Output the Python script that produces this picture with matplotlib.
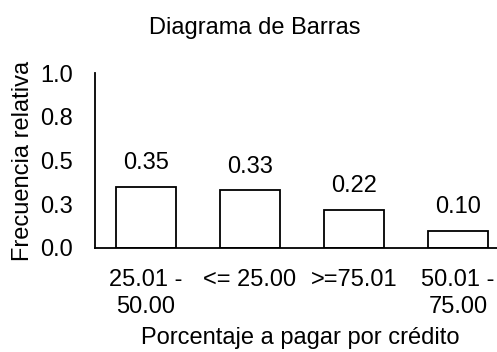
import matplotlib
matplotlib.use("Agg")
import matplotlib.pyplot as plt

plt.rcParams['font.family'] = ['Liberation Sans', 'DejaVu Sans']

categorias = ["25.01 -\n50.00", "<= 25.00", ">=75.01", "50.01 -\n75.00"]
frecuencias = [0.35, 0.33, 0.22, 0.10]
yticks = [0.0, 0.25, 0.5, 0.75, 1.0]
ytick_labels = ["0.0", "0.3", "0.5", "0.8", "1.0"]

fs = 17

fig = plt.figure(figsize=(4.97, 3.52), dpi=100)
ax = fig.add_axes([95 / 497, 1 - 248 / 352, 1 - 95 / 497, 175 / 352])

x = range(len(categorias))
bars = ax.bar(x, frecuencias, width=0.57, color="white", edgecolor="black", linewidth=1.3)
for b, v in zip(bars, frecuencias):
    ax.annotate(f"{v:.2f}", (b.get_x() + b.get_width() / 2, v), xytext=(0, 9),
                textcoords="offset points", ha="center", va="bottom", fontsize=fs)

ax.set_xlim(-0.49, 3.375)
ax.set_ylim(0, 1.0)
ax.set_yticks(yticks)
ax.set_yticklabels(ytick_labels)
ax.set_xticks(list(x))
ax.set_xticklabels(categorias, linespacing=1.3)
ax.tick_params(axis="both", length=0, labelsize=fs)
ax.tick_params(axis="y", pad=16)
ax.tick_params(axis="x", pad=15)

for s in ["top", "right"]:
    ax.spines[s].set_visible(False)
for s in ["left", "bottom"]:
    ax.spines[s].set_linewidth(1.3)

ax.set_ylabel("Frecuencia relativa", fontsize=fs, labelpad=4)
fig.text(300 / 497, 1 - 344 / 352, "Porcentaje a pagar por crédito", fontsize=fs,
         ha="center", va="baseline")
fig.text(255 / 497, 1 - 34 / 352, "Diagrama de Barras", fontsize=fs,
         ha="center", va="baseline")

fig.savefig("out.png", dpi=100)
